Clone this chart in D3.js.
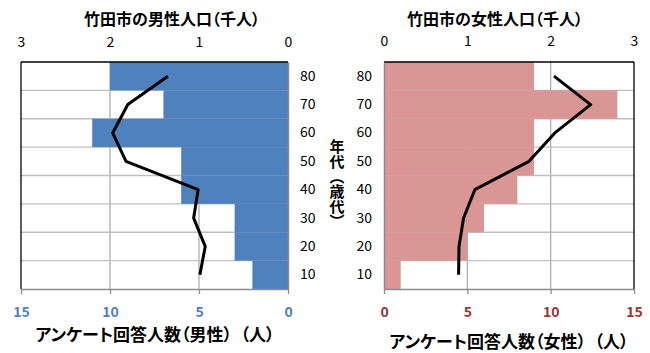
<!DOCTYPE html>
<html>
<head>
<meta charset="utf-8">
<script src="https://cdn.jsdelivr.net/npm/d3@7"></script>
<style>
  html, body { margin: 0; padding: 0; background: #fff; }
  svg { display: block; font-family: "Noto Sans CJK JP", "Noto Sans", sans-serif; }
  .title { font-weight: bold; font-size: 16px; fill: #000; font-feature-settings: "palt"; }
  .xtitle { font-size: 17px; }
</style>
</head>
<body>
<svg id="chart" width="650" height="353"></svg>
<script>
// Age groups (top to bottom) and values per group
const ageGroups = ["80", "70", "60", "50", "40", "30", "20", "10"];
const maleRespondents = [10, 7, 11, 6, 6, 3, 3, 2];
const malePopulation = [1.35, 1.8, 1.97, 1.82, 1.01, 1.06, 0.93, 0.99];
const femaleRespondents = [9, 14, 9, 9, 8, 6, 5, 1];
const femalePopulation = [2.04, 2.48, 2.05, 1.74, 1.09, 0.955, 0.9, 0.895];
const populationTicks = [0, 1, 2, 3];
const respondentTicks = [0, 5, 10, 15];

const svg = d3.select("#chart");
const plotTop = 62, plotBottom = 289;

const y = d3.scaleBand().domain(ageGroups).range([plotTop, plotBottom]).padding(0);

const panels = [
  {
    left: 21, right: 288, mirrored: true,
    respondents: maleRespondents, population: malePopulation,
    barColor: "#4F81BD", labelColor: "#4F81BD",
    title: "竹田市の男性人口（千人）", titleX: 172, titleY: 25,
    xTitle: "アンケート回答人数（男性）\u2002（人）", xTitleX: 155, xTitleY: 341,
    topLabelY: 47, bottomPad: 13
  },
  {
    left: 384, right: 634, mirrored: false,
    respondents: femaleRespondents, population: femalePopulation,
    barColor: "#D99694", labelColor: "#953735",
    title: "竹田市の女性人口（千人）", titleX: 495, titleY: 25,
    xTitle: "アンケート回答人数（女性）\u2002（人）", xTitleX: 509, xTitleY: 348,
    topLabelY: 46, bottomPad: 13
  }
];

panels.forEach(p => {
  // Respondent scale (bottom) and population scale (top) share the same pixel span
  const xr = d3.scaleLinear().domain([0, 15]).range(p.mirrored ? [p.right, p.left] : [p.left, p.right]);
  const xp = d3.scaleLinear().domain([0, 3]).range(p.mirrored ? [p.right, p.left] : [p.left, p.right]);
  const g = svg.append("g");

  g.append("rect").attr("x", p.left).attr("y", plotTop)
    .attr("width", p.right - p.left).attr("height", plotBottom - plotTop).attr("fill", "#fff");

  // vertical gridlines at population ticks
  g.selectAll(".vgrid").data(populationTicks.filter(t => t > 0 && t < 3)).join("line")
    .attr("x1", d => xp(d)).attr("x2", d => xp(d))
    .attr("y1", plotTop).attr("y2", plotBottom)
    .attr("stroke", "#ADADAD").attr("stroke-width", 1.3);

  // horizontal gridlines between age rows
  g.selectAll(".hgrid").data(ageGroups.slice(1)).join("line")
    .attr("x1", p.left).attr("x2", p.right)
    .attr("y1", d => y(d)).attr("y2", d => y(d))
    .attr("stroke", "#BFBFBF").attr("stroke-width", 1.3);

  // respondent bars
  g.selectAll(".bar").data(ageGroups).join("rect")
    .attr("x", (d, i) => Math.min(xr(0), xr(p.respondents[i])))
    .attr("width", (d, i) => Math.abs(xr(p.respondents[i]) - xr(0)))
    .attr("y", d => y(d)).attr("height", y.bandwidth())
    .attr("fill", p.barColor);

  // population line
  const line = d3.line()
    .x(d => xp(d))
    .y((d, i) => y(ageGroups[i]) + y.bandwidth() / 2);
  g.append("path").datum(p.population)
    .attr("d", line).attr("fill", "none")
    .attr("stroke", "#000").attr("stroke-width", 3)
    .attr("stroke-linejoin", "round").attr("stroke-linecap", "butt");

  // outer frame: top and outer side in black
  g.append("line").attr("x1", p.left).attr("x2", p.right).attr("y1", plotTop).attr("y2", plotTop)
    .attr("stroke", "#000").attr("stroke-width", 1.3);
  const outerX = p.mirrored ? p.left : p.right;
  g.append("line").attr("x1", outerX).attr("x2", outerX).attr("y1", plotTop).attr("y2", plotBottom)
    .attr("stroke", "#000").attr("stroke-width", 1.3);

  // top axis: population (thousands)
  const topAxis = g.append("g").attr("transform", `translate(0,${plotTop})`)
    .call(d3.axisTop(xp).tickValues(populationTicks).tickFormat(d3.format("d")).tickSize(0).tickPadding(plotTop - p.topLabelY));
  topAxis.select(".domain").remove();
  topAxis.selectAll("text").attr("font-size", 14).attr("fill", "#000")
    .attr("font-family", "'Noto Sans CJK JP', sans-serif");

  // bottom axis: respondents
  const bottomAxis = g.append("g").attr("transform", `translate(0,${plotBottom})`)
    .call(d3.axisBottom(xr).tickValues(respondentTicks).tickSize(5).tickPadding(p.bottomPad).tickSizeOuter(0));
  bottomAxis.select(".domain").attr("stroke", "#8C8C8C").attr("stroke-width", 1.3);
  bottomAxis.selectAll(".tick line").attr("stroke", "#8C8C8C").attr("stroke-width", 1.3);
  bottomAxis.selectAll("text").attr("font-size", 14).attr("font-weight", "bold")
    .attr("fill", p.labelColor).attr("font-family", "'Noto Sans CJK JP', sans-serif");

  // category axis on the inner side
  const innerX = p.mirrored ? p.right : p.left;
  const catAxis = g.append("g").attr("transform", `translate(${innerX},0)`)
    .call((p.mirrored ? d3.axisRight(y) : d3.axisLeft(y)).tickSize(0).tickPadding(12));
  catAxis.select(".domain").attr("stroke", "#8C8C8C").attr("stroke-width", 1.5);
  catAxis.selectAll("text").attr("font-size", 14).attr("fill", "#000")
    .attr("font-family", "'Noto Sans CJK JP', sans-serif");

  // titles
  svg.append("text").attr("class", "title")
    .attr("x", p.titleX).attr("y", p.titleY).attr("text-anchor", "middle").text(p.title);
  svg.append("text").attr("class", "title xtitle")
    .attr("x", p.xTitleX).attr("y", p.xTitleY).attr("text-anchor", "middle").text(p.xTitle);
});

// shared vertical age title between the two panels
svg.append("text").attr("class", "title")
  .attr("x", 337).attr("y", 184)
  .attr("text-anchor", "middle")
  .style("writing-mode", "vertical-rl")
  .style("font-size", "15px")
  .text("年代（歳代）");
</script>
</body>
</html>
